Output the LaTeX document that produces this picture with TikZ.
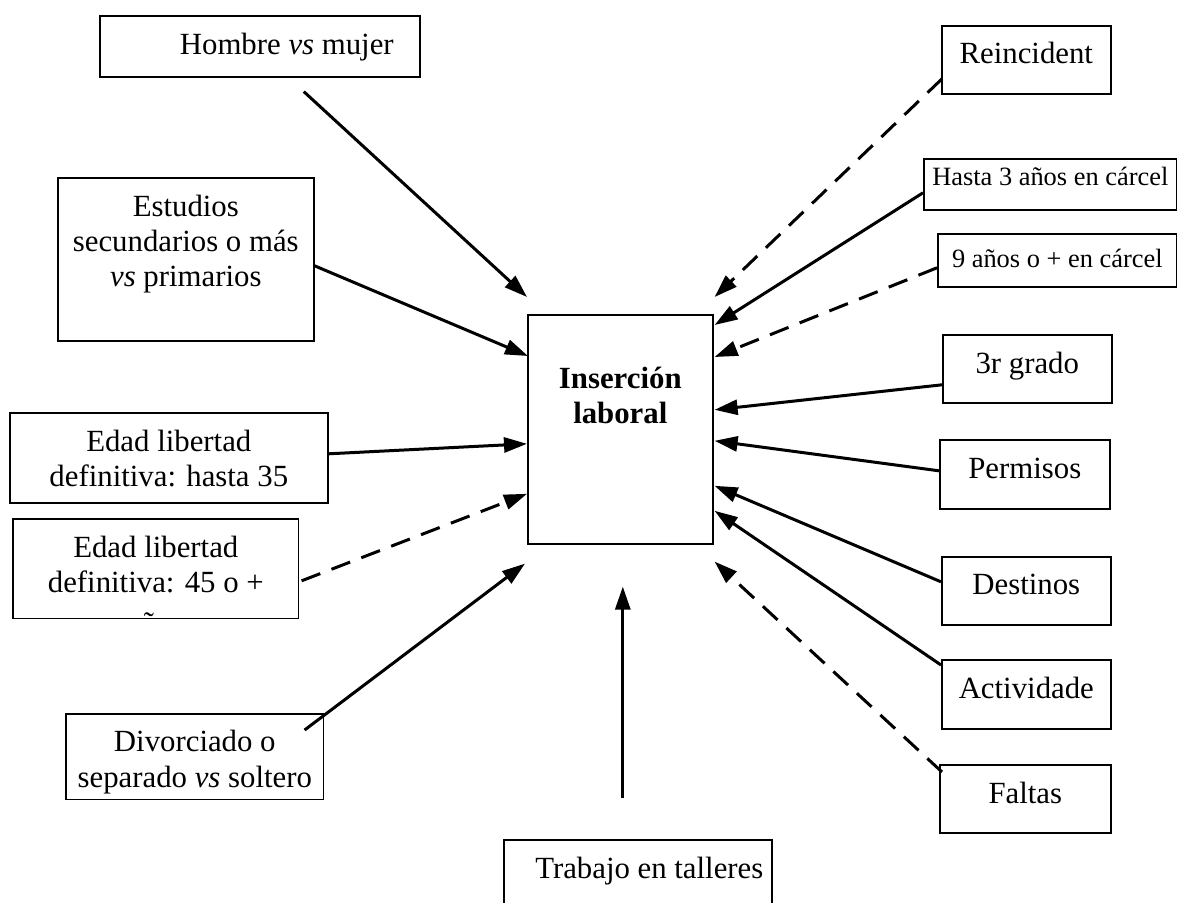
\documentclass[tikz,border=0pt]{standalone}
\usepackage{fontspec}
\setmainfont{Liberation Serif}
\usetikzlibrary{arrows.meta}

\newcommand{\caja}[4][39]{\parbox[t][#3pt][t]{#2pt}{\centering\rule{0pt}{#1pt}#4}}

\tikzset{
	recuadro/.style={draw, line width=1.6pt, inner sep=0pt, anchor=north west, font=\fontsize{30.8}{35}\selectfont},
	chica/.style={recuadro, font=\fontsize{26.4}{30}\selectfont},
	flecha/.style={line width=3pt, -{Triangle[length=23pt,width=15pt]}},
	discont/.style={flecha, dash pattern=on 20pt off 12pt}
}

\begin{document}
\begin{tikzpicture}[x=1pt, y=-1pt]
				\useasboundingbox[fill=white] (0,0) rectangle (1177,902);
				
				\node[recuadro] (insercion) at (527,314) {\caja[74]{185}{229}{\textbf{Inserción}\\\textbf{laboral}}};
				
				\node[recuadro] (hombre) at (99,15) {\caja{320}{61}{\hspace*{54pt}Hombre \textit{vs} mujer}};
				\node[recuadro] (estudios) at (57,177) {\caja{256}{163}{Estudios\\secundarios o más\\\textit{vs} primarios}};
				\node[recuadro] (edad35) at (9,412) {\caja{318}{90}{Edad libertad\\definitiva: hasta 35}};
				\begin{scope}
					\clip (11.2,517.2) rectangle (298.8,618.8);
					\node[recuadro] (edad45) at (12,518) {\caja{286}{100}{Edad libertad\\definitiva: 45 o +\\[6pt]años}};
				\end{scope}
				\begin{scope}
					\clip (64.2,712.2) rectangle (323.8,799.8);
					\node[recuadro] (divorciado) at (65,713) {\caja[38]{258}{86}{Divorciado o\\[1pt]separado \textit{vs} soltero}};
				\end{scope}
				\node[recuadro] (trabajo) at (503,839) {\caja{268}{100}{\hspace*{23pt}Trabajo en talleres}};
				
				\node[recuadro] (reincident) at (941,25) {\caja[38]{169}{68}{Reincident}};
				\node[chica] (hasta3) at (923,158) {\caja[27]{253}{51}{Hasta 3 años en cárcel}};
				\node[chica] (nueve) at (937,233) {\caja[34]{239}{53}{9 años o + en cárcel}};
				\node[recuadro] (grado) at (942,334) {\caja{169}{68}{3r grado}};
				\node[recuadro] (permisos) at (939,439) {\caja{170}{69}{Permisos}};
				\node[recuadro] (destinos) at (941,556) {\caja[38]{169}{68}{Destinos}};
				\node[recuadro] (actividade) at (941,659) {\caja{169}{69}{Actividade}};
				\node[recuadro] (faltas) at (939,764) {\caja{171}{68}{Faltas}};
				
				\draw[flecha] ([xshift=44pt,yshift=-14pt]hombre.south) -- ([yshift=17pt]insercion.north west);
				\draw[flecha] ([yshift=-6.5pt]estudios.east) -- ([xshift=1pt,yshift=-42pt]insercion.north west);
				\draw[flecha] ([yshift=4pt]edad35.east) -- ([yshift=-14.5pt]insercion.west);
				\draw[discont] ([xshift=2pt,yshift=-12pt]edad45.east) -- ([yshift=-64.5pt]insercion.west);
				\draw[flecha] ([xshift=-20pt,yshift=-17pt]divorciado.north east) -- ([xshift=-2pt,yshift=-19pt]insercion.south west);
				\draw[flecha] ([xshift=-15pt,yshift=41pt]trabajo.north) -- ([xshift=2.5pt,yshift=-42pt]insercion.south);
				
				\draw[discont] ([xshift=1pt,yshift=-19pt]reincident.west) -- ([xshift=1pt,yshift=17pt]insercion.north east);
				\draw[flecha] ([yshift=-8.5pt]hasta3.west) -- ([xshift=1pt,yshift=-11pt]insercion.north east);
				\draw[discont] ([yshift=-7.5pt]nueve.west) -- ([xshift=1pt,yshift=-43pt]insercion.north east);
				\draw[flecha] ([yshift=-16pt]grado.west) -- ([xshift=1pt,yshift=19.5pt]insercion.east);
				\draw[flecha] ([yshift=3.5pt]permisos.west) -- ([xshift=1pt,yshift=-11.5pt]insercion.east);
				\draw[flecha] ([yshift=9pt]destinos.west) -- ([xshift=1pt,yshift=-56.5pt]insercion.east);
				\draw[flecha] ([yshift=-6pt]actividade.north west) -- ([xshift=1pt,yshift=-81.5pt]insercion.east);
				\draw[discont] ([xshift=3pt,yshift=-8pt]faltas.north west) -- ([xshift=1pt,yshift=-17pt]insercion.south east);
			\end{tikzpicture}
\end{document}
